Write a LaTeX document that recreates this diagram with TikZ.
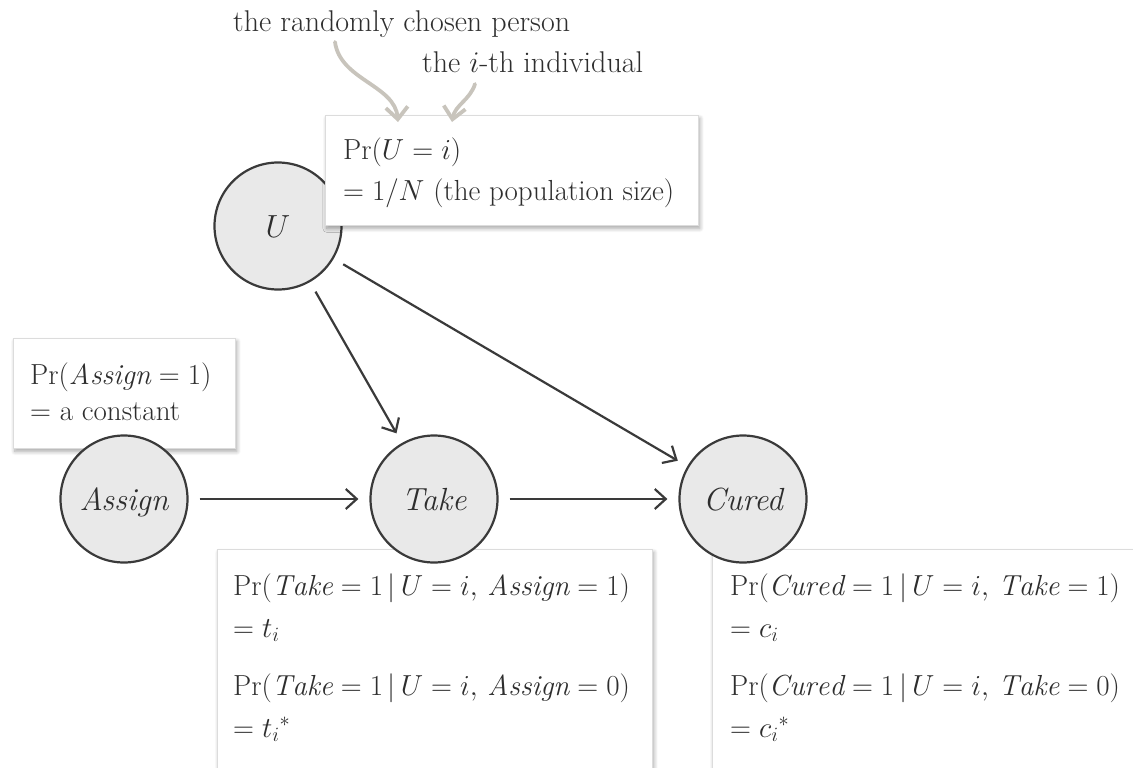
\RequirePackage{fix-cm}
\documentclass[tikz,border=0pt]{standalone}
\usepackage{fontspec}
\usetikzlibrary{arrows.meta,shadows.blur}
\definecolor{ink}{HTML}{3A3A3A}
\definecolor{txt}{HTML}{2E2E2E}
\definecolor{nodefill}{HTML}{E9E9E9}
\definecolor{boxline}{HTML}{DCDCDC}
\definecolor{hand}{HTML}{C8C4BC}
\tikzset{
 var/.style={circle, draw=ink, fill=nodefill, line width=2.2pt, minimum size=127pt, inner sep=0pt,
   font=\fontsize{32}{36}\selectfont\itshape, text=txt, text height=23pt, text depth=1pt},
 infobox/.style={draw=boxline, line width=0.8pt, fill=white, anchor=north west, inner sep=0pt,
   blur shadow={shadow xshift=1.5pt, shadow yshift=-3pt, shadow blur radius=4pt, shadow blur steps=8, shadow opacity=35}},
 lbl/.style={anchor=base west, inner sep=0pt, text=txt, font=\fontsize{29}{33}\selectfont},
 edge/.style={draw=ink, line width=2.2pt, -{Straight Barb[length=11pt,width=20pt]}, shorten <=11pt, shorten >=11pt},
 handarrow/.style={draw=hand, line width=3.8pt, line cap=round, -{Straight Barb[length=12pt,width=22pt]}},
}
\begin{document}
\begin{tikzpicture}[x=1pt,y=-1pt]
\useasboundingbox (0,0) rectangle (1133,768);
\clip (0,0) rectangle (1133,768);
% boxes below the circles
\node[infobox, minimum width=222pt, minimum height=110pt] (assignbox) at (13,338) {};
\node[infobox, minimum width=435pt, minimum height=260pt] (takebox) at (217,549) {};
\node[infobox, minimum width=440pt, minimum height=260pt] (curedbox) at (712,549) {};
% circles
\node[var] (U) at (278,226) {$U$};
\node[var] (Assign) at (124,499) {Assign};
\node[var] (Take) at (434,499) {Take};
\node[var] (Cured) at (743,499) {Cured};
% top box above U
\node[infobox, minimum width=373pt, minimum height=110pt] (ubox) at (325,115) {};
% texts
\node[lbl, font=\fontsize{30}{34}\selectfont] (note1) at (233,32) {the randomly chosen person};
\node[lbl, font=\fontsize{30}{34}\selectfont] (note2) at (422,73) {the $i$-th individual};
\node[lbl] (u1) at (343,159) {$\Pr(U=i)$};
\node[lbl] (u2) at (343,200) {$=1/N$ (the population size)};
\node[lbl] (a1) at (30,384) {$\Pr(\mathit{Assign}=1)$};
\node[lbl] (a2) at (30,420) {$=$ a constant};
\node[lbl] (t1) at (233,595) {$\Pr(\mathit{Take}=1\,|\,U=i,\,\mathit{Assign}=1)$};
\node[lbl] (t2) at (233,637) {$=t_i$};
\node[lbl] (t3) at (233,695) {$\Pr(\mathit{Take}=1\,|\,U=i,\,\mathit{Assign}=0)$};
\node[lbl] (t4) at (233,737) {$={t_i}^*$};
\node[lbl] (c1) at (730,595) {$\Pr(\mathit{Cured}=1\,|\,U=i,\,\mathit{Take}=1)$};
\node[lbl] (c2) at (730,637) {$=c_i$};
\node[lbl] (c3) at (730,695) {$\Pr(\mathit{Cured}=1\,|\,U=i,\,\mathit{Take}=0)$};
\node[lbl] (c4) at (730,737) {$={c_i}^*$};
% connectors
\draw[edge] (U) -- (Take);
\draw[edge] (U) -- (Cured);
\draw[edge] (Assign) -- (Take);
\draw[edge] (Take) -- (Cured);
% hand-drawn pointers
\coordinate (h1s) at (335,42);
\coordinate (h1e) at (398,122);
\coordinate (h2s) at (475,84);
\coordinate (h2e) at (452,122);
\draw[handarrow] (h1s) .. controls (340,80) and (395,85) .. (h1e);
\draw[handarrow] (h2s) .. controls (470,100) and (455,105) .. (h2e);
\end{tikzpicture}
\end{document}
